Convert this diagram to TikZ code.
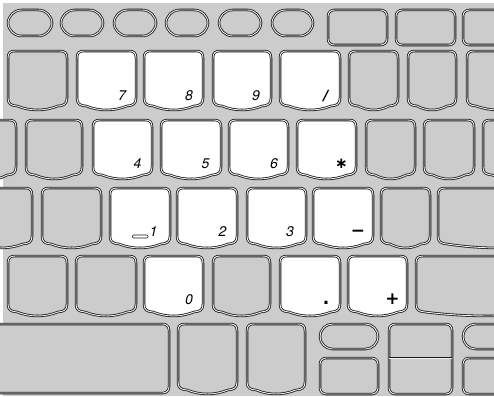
\documentclass[tikz,border=0pt]{standalone}
\usepackage{fontspec}
\setmainfont{TeX Gyre Heros}
\newfontfamily\dvs{DejaVu Sans}
\definecolor{kbg}{HTML}{CCCCCC}
\definecolor{kdark}{HTML}{181818}
\definecolor{kgap}{HTML}{F2F2F2}
\newcommand\capkey[5]{%
\path[#1] ({#2},{#3+7}) .. controls ({#2},{#3+2}) and ({(#2)+2},{#3}) .. ({(#2)+7},{#3})
 -- ({(#4)-7},{#3}) .. controls ({(#4)-2},{#3}) and ({#4},{#3+2}) .. ({#4},{#3+7})
 -- ({#4},{#5-12}) .. controls ({#4},{#5-6}) and ({(#4)-3},{#5-4.5}) .. ({(#4)-9},{#5-4})
 .. controls ({(#4)-9-((#4)-(#2)-18)/3},{#5+1.3}) and ({(#2)+9+((#4)-(#2)-18)/3},{#5+1.3}) .. ({(#2)+9},{#5-4})
 .. controls ({(#2)+3},{#5-4.5}) and ({#2},{#5-6}) .. ({#2},{#5-12}) -- cycle;}
\begin{document}
\begin{tikzpicture}[x=1pt,y=-1pt,
  keyline/.style={draw=kdark, line width=0.8pt, double=kgap, double distance=0.9pt},
  wkey/.style={keyline, fill=white},
  gkey/.style={keyline, fill=kbg},
  dig/.style={font=\fontsize{14}{14}\selectfont\itshape, inner sep=0pt, anchor=base},
  sym/.style={font=\dvs\bfseries\fontsize{17}{17}\selectfont, inner sep=0pt, anchor=base}]
\useasboundingbox (0,0) rectangle (494,396);
\clip (0,0) rectangle (494,396);
\fill[white] (0,0) rectangle (494,396);
\fill[kbg] (3,3) rectangle (494,396);
% row 0
\foreach \a/\b in {8/52,61/103,114/156,166/208,219/261,272/313}
  \path[gkey, rounded corners=13.5] (\a,10) rectangle (\b,36);
\foreach \a/\b in {328/387,396/455,463/530}
  \path[gkey, rounded corners=6] (\a,10) rectangle (\b,45);
% row 1
\capkey{gkey}{8}{51}{67}{110}
\capkey{wkey}{77}{51}{136}{110}
\capkey{wkey}{144}{51}{203}{110}
\capkey{wkey}{213}{51}{271}{110}
\capkey{wkey}{280}{51}{340}{110}
\capkey{gkey}{349}{51}{398}{110}
\capkey{gkey}{408}{51}{456}{110}
\capkey{gkey}{467}{51}{530}{110}
% row 2
\capkey{gkey}{-30}{120}{16}{179}
\capkey{gkey}{26}{120}{82}{179}
\capkey{wkey}{93}{120}{152}{179}
\capkey{wkey}{161}{120}{221}{179}
\capkey{wkey}{229}{120}{288}{179}
\capkey{wkey}{297}{120}{356}{179}
\capkey{gkey}{366}{120}{415}{179}
\capkey{gkey}{424}{120}{474}{179}
\capkey{gkey}{483}{120}{540}{179}
% row 3
\capkey{gkey}{-30}{188}{32}{248}
\capkey{gkey}{42}{188}{101}{248}
\capkey{wkey}{110}{188}{170}{248}
\capkey{wkey}{177}{188}{237}{248}
\capkey{wkey}{247}{188}{306}{248}
\capkey{wkey}{313}{188}{373}{248}
\capkey{gkey}{381}{188}{430}{248}
\capkey{gkey}{438}{188}{560}{248}
% row 4
\capkey{gkey}{8}{256}{67}{316}
\capkey{gkey}{76}{256}{136}{316}
\capkey{wkey}{144}{256}{203}{316}
\capkey{gkey}{213}{256}{270}{316}
\capkey{wkey}{280}{256}{340}{316}
\capkey{wkey}{348}{256}{407}{316}
\capkey{gkey}{416}{256}{560}{316}
% row 5
\path[gkey, rounded corners=6] (-20,324) rectangle (169,393);
\capkey{gkey}{178}{324}{237}{394}
\capkey{gkey}{247}{324}{305}{394}
\path[gkey, rounded corners=12.5] (320,324) rectangle (378,349);
\path[gkey, rounded corners=6] (320,358) rectangle (378,394);
\path[gkey, rounded corners=6] (389,324) rectangle (452,394);
\coordinate (sl) at (389,358);
\coordinate (sr) at (452,358);
\draw[keyline] (sl) -- (sr);
\path[gkey, rounded corners=12.5] (463,324) rectangle (540,349);
\path[gkey, rounded corners=6] (463,358) rectangle (540,394);
% labels
\node[dig] (l7) at (122,100) {7};
\node[dig] (l8) at (189,100) {8};
\node[dig] (l9) at (256,100) {9};
\node[dig, font=\dvs\bfseries\itshape\fontsize{14}{14}\selectfont] (lsl) at (326,100) {/};
\node[dig] (l4) at (137.5,168) {4};
\node[dig] (l5) at (205.5,168) {5};
\node[dig] (l6) at (274,168) {6};
\node[sym, font=\dvs\bfseries\fontsize{15}{15}\selectfont] (last) at (341.5,168) {∗};
\node[dig] (l1) at (153.5,236) {1};
\draw[kdark, line width=0.6pt, rounded corners=1] (132.5,235) rectangle (148,238);
\node[dig] (l2) at (222.5,236) {2};
\node[dig] (l3) at (290,236) {3};
\node[sym] (lmin) at (358,236) {−};
\node[dig] (l0) at (189,304) {0};
\node[sym] (ldot) at (326,304) {.};
\node[sym] (lplus) at (392.5,304) {+};
\end{tikzpicture}
\end{document}
